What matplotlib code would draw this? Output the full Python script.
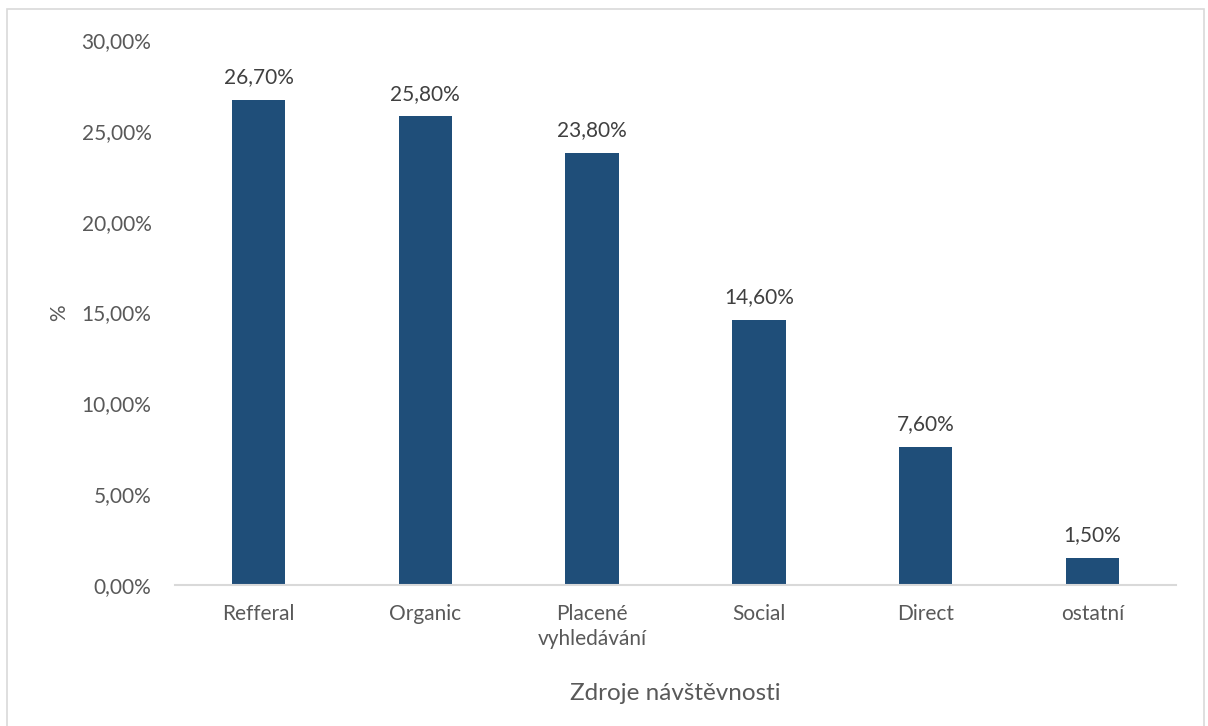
import matplotlib.pyplot as plt
from matplotlib.patches import Rectangle
from matplotlib.ticker import FuncFormatter

categories = ["Refferal", "Organic", "Placené\nvyhledávání", "Social", "Direct", "ostatní"]
values = [26.7, 25.8, 23.8, 14.6, 7.6, 1.5]
y_ticks = [0, 5, 10, 15, 20, 25, 30]

plt.rcParams['font.family'] = ['Lato', 'DejaVu Sans']

fig = plt.figure(figsize=(12.08, 7.26), dpi=100)
ax = fig.add_axes([0.1449, 0.1942, 0.8286, 0.7507])

# outer chart frame
fig.patches.append(Rectangle((0.006, -0.01), 0.991, 0.997, transform=fig.transFigure,
                             fill=False, edgecolor="#D9D9D9", linewidth=1.2))

x = range(len(categories))
bars = ax.bar(x, values, width=0.32, color="#1F4E79")

for b, v in zip(bars, values):
    ax.annotate(f"{v:.2f}%".replace(".", ","), (b.get_x() + b.get_width() / 2, v),
                xytext=(0, 9), textcoords="offset points", ha="center", va="bottom",
                fontsize=15, color="#404040")

ax.set_xlim(-0.5, len(categories) - 0.5)
ax.set_ylim(0, 30)
ax.set_yticks(y_ticks)
ax.yaxis.set_major_formatter(FuncFormatter(lambda v, p: f"{v:.2f}%".replace(".", ",")))
ax.set_xticks(list(x))
ax.set_xticklabels(categories, linespacing=1.3)
ax.tick_params(axis="both", length=0, labelsize=15, labelcolor="#595959")
ax.tick_params(axis="x", pad=14)
ax.tick_params(axis="y", pad=17)

for s in ["top", "right", "left"]:
    ax.spines[s].set_visible(False)
ax.spines["bottom"].set_color("#D9D9D9")
ax.spines["bottom"].set_linewidth(1.5)

ax.set_ylabel("%", fontsize=15, color="#595959", labelpad=9)
ax.set_xlabel("Zdroje návštěvnosti", fontsize=17.5, color="#595959", labelpad=24)

fig.savefig("out.png", dpi=100)
